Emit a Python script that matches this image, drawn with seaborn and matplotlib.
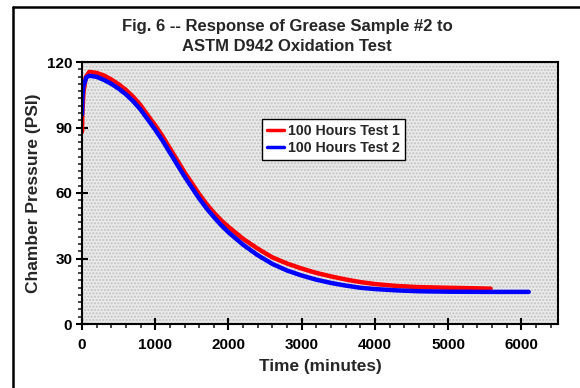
import matplotlib
matplotlib.use("Agg")
import matplotlib.pyplot as plt
import seaborn as sns
import pandas as pd
from matplotlib.lines import Line2D
from matplotlib.patches import Rectangle
from matplotlib.ticker import MultipleLocator, AutoMinorLocator

# values
time_1 = [0, 5, 20, 50, 100, 200, 300, 400, 500, 600, 700, 800, 900, 1000, 1100, 1200,
          1300, 1400, 1500, 1600, 1700, 1800, 1900, 2000, 2200, 2400, 2600, 2800, 3000,
          3200, 3400, 3600, 3800, 4000, 4300, 4600, 5000, 5300, 5580]
pressure_1 = [88, 97, 106, 113, 115.5, 115, 113.8, 112, 109.8, 107.2, 104, 100.2, 95.5, 91, 86, 80.5,
              75, 69.5, 64.5, 59.5, 55, 51, 47.5, 44.5, 39, 34.5, 30.5, 27.7, 25.4,
              23.4, 21.8, 20.4, 19.2, 18.3, 17.4, 16.9, 16.6, 16.4, 16.2]

time_2 = [0, 5, 20, 60, 100, 200, 300, 400, 500, 600, 700, 800, 900, 1000, 1100, 1200,
          1300, 1400, 1500, 1600, 1700, 1800, 1900, 2000, 2200, 2400, 2600, 2800, 3000,
          3200, 3400, 3600, 3800, 4000, 4300, 4600, 5000, 5500, 6100]
pressure_2 = [96, 104, 109, 113, 113.7, 113.2, 111.8, 110, 107.8, 105.2, 102, 98.2, 93.6, 89, 84, 78.5,
              73, 67.6, 62.5, 57.5, 53, 49, 45.3, 42, 36.3, 31.5, 27.5, 24.5, 22.2,
              20.3, 18.8, 17.6, 16.6, 16, 15.4, 15, 14.8, 14.7, 14.7]

series_names = ["100 Hours Test 1", "100 Hours Test 2"]
title_lines = ["Fig. 6 -- Response of Grease Sample #2 to", "ASTM D942 Oxidation Test"]

df = pd.concat([
    pd.DataFrame({"time": time_1, "pressure": pressure_1, "series": series_names[0]}),
    pd.DataFrame({"time": time_2, "pressure": pressure_2, "series": series_names[1]}),
])

sns.set_style("ticks")
plt.rcParams["font.family"] = ["Liberation Sans", "DejaVu Sans"]
plt.rcParams["font.weight"] = "bold"
plt.rcParams["hatch.linewidth"] = 1.0

W, H = 580, 388
fig = plt.figure(figsize=(W / 100, H / 100), dpi=100)
ax = fig.add_axes([82 / W, 1 - 324 / H, (558 - 82) / W, (324 - 62) / H])
ax.set_facecolor("#eaeaea")
# stippled plot background
ax.add_patch(Rectangle((0, 0), 1, 1, transform=ax.transAxes, facecolor="none",
                       edgecolor="#c2c2c2", hatch=".....", linewidth=0, zorder=0))

sns.lineplot(data=df, x="time", y="pressure", hue="series", estimator=None, sort=True,
             palette={series_names[0]: "#ff0000", series_names[1]: "#0000ff"},
             linewidth=3.2, ax=ax)

ax.set_xlim(0, 6500)
ax.set_ylim(0, 120)
ax.xaxis.set_major_locator(MultipleLocator(1000))
ax.xaxis.set_minor_locator(MultipleLocator(200))
ax.yaxis.set_major_locator(MultipleLocator(30))
ax.yaxis.set_minor_locator(AutoMinorLocator(9))
ax.tick_params(which="major", direction="inout", length=8, width=1.5, labelsize=11, colors="black")
ax.tick_params(axis="x", which="major", pad=6)
ax.tick_params(axis="y", which="major", pad=3)
ax.tick_params(which="minor", direction="out", length=3, width=1.2)
for lab in ax.get_xticklabels() + ax.get_yticklabels():
    lab.set_fontweight("bold")
for sp in ax.spines.values():
    sp.set_visible(True)
    sp.set_linewidth(1.5)
    sp.set_color("black")

ax.set_xlabel("Time (minutes)", fontsize=12.4, fontweight="bold", labelpad=5)
ax.set_ylabel("Chamber Pressure (PSI)", fontsize=12.5, fontweight="bold", labelpad=4)

leg = ax.legend(loc="upper left", bbox_to_anchor=(262 / W, 1 - 119 / H),
                bbox_transform=fig.transFigure, frameon=True, fancybox=False,
                prop={"size": 10.2, "weight": "bold"}, handlelength=1.2,
                handletextpad=0.3, borderpad=0.35, labelspacing=0.2, borderaxespad=0)
leg.get_frame().set_edgecolor("black")
leg.get_frame().set_linewidth(1.0)
leg.get_frame().set_facecolor("white")
leg.get_frame().set_alpha(1)
for ln in leg.get_lines():
    ln.set_linewidth(2.5)

fig.text(287 / W, 1 - 26 / H, title_lines[0], ha="center", va="center", fontsize=12, fontweight="bold")
fig.text(287 / W, 1 - 46.5 / H, title_lines[1], ha="center", va="center", fontsize=12, fontweight="bold")

# outer chart frame
fig.add_artist(Line2D([13 / W, 13 / W], [0, 1 - 7 / H], transform=fig.transFigure, color="black", lw=1.8))
fig.add_artist(Line2D([13 / W, 1], [1 - 7 / H, 1 - 7 / H], transform=fig.transFigure, color="black", lw=1.8))

fig.savefig("out.png", dpi=100)
